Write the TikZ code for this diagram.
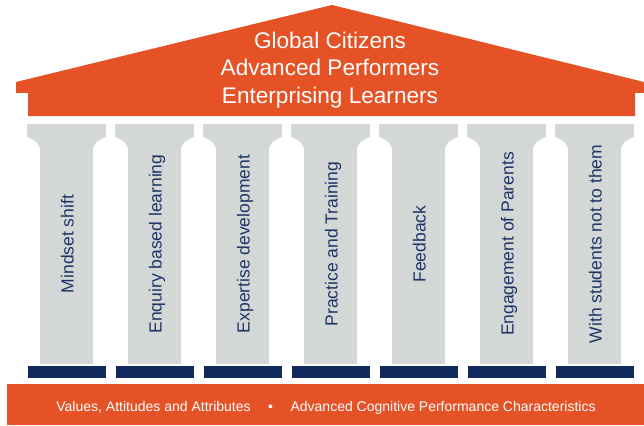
\documentclass[tikz,border=0pt]{standalone}
\usepackage{fontspec}
\setmainfont{Liberation Sans}
\usetikzlibrary{positioning}
\usepackage{xcolor}
\definecolor{roofred}{RGB}{228,82,38}
\definecolor{pillargrey}{RGB}{211,215,213}
\definecolor{basenavy}{RGB}{16,42,94}
\definecolor{textnavy}{RGB}{30,52,104}

\begin{document}
\begin{tikzpicture}[x=1pt,y=-1pt,
    roof text/.style={text=white, font=\fontsize{22.6}{27}\selectfont, inner sep=0pt, anchor=base},
    pillar text/.style={text=textnavy, font=\fontsize{17.5}{21}\selectfont, rotate=90, anchor=base, inner sep=0pt},
    band text/.style={text=white, font=\fontsize{14}{17}\selectfont, inner sep=0pt, anchor=base}]
    \def\w{88}   % pillar pitch
    \def\cw{79}  % capital width
    \def\sh{13}  % shaft inset
    \useasboundingbox (0,0) rectangle (644,425);

    % roof
    \fill[roofred] (16,82) -- (332,5) -- (644,82) -- (644,93) -- (635,93) -- (635,116)
        -- (28,116) -- (28,93) -- (16,93) -- cycle;
    \foreach \txt [count=\j] in {Global Citizens, Advanced Performers, Enterprising Learners}
      \node[roof text] (title\j) at (330,21+27.5*\j) {\txt};

    % pillars
    \foreach \key [count=\i from 0] in {Mindset shift, Enquiry based learning,
                                        Expertise development, Practice and Training,
                                        Feedback, Engagement of Parents,
                                        With students not to them}{
      \pgfmathsetmacro{\px}{27+\i*\w}
      \fill[pillargrey] (\px,124) -- (\px+\cw,124) -- (\px+\cw,137)
        .. controls (\px+\cw-8,140) and (\px+\cw-\sh,143) .. (\px+\cw-\sh,151)
        -- (\px+\cw-\sh,364) -- (\px+\sh,364) -- (\px+\sh,151)
        .. controls (\px+\sh,143) and (\px+8,140) .. (\px,137) -- cycle;
      \fill[basenavy] (\px+1,366) rectangle ++(78,12);
      \node[pillar text] (pillar\i) at (\px+46.5,244) {\key};
    }

    % base
    \fill[roofred] (7,384) rectangle (644,425);
    \node[band text] (band) at (326,411.5) {Values, Attitudes and Attributes\hspace{17.5pt}\textbullet\hspace{17.5pt}Advanced Cognitive Performance Characteristics};
\end{tikzpicture}
\end{document}
